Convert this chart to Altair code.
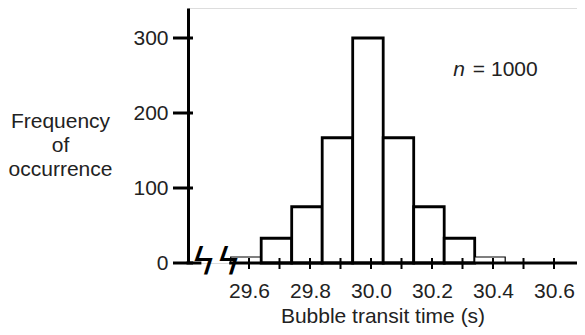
import altair as alt
import pandas as pd

# ---- data ----
bin_start = [29.54, 29.64, 29.74, 29.84, 29.94, 30.04, 30.14, 30.24, 30.34]
bin_end = [29.64, 29.74, 29.84, 29.94, 30.04, 30.14, 30.24, 30.34, 30.44]
counts = [8, 33, 75, 167, 300, 167, 75, 33, 8]

y_tick_values = [0, 100, 200, 300]
x_tick_values = [29.6, 29.7, 29.8, 29.9, 30.0, 30.1, 30.2, 30.3, 30.4, 30.5, 30.6]
x_label_values = [29.6, 29.8, 30.0, 30.2, 30.4, 30.6]

x_domain = [29.4, 30.6754]
y_domain = [0, 340]

baseline_start = [29.4, 29.54]
baseline_end = [29.439, 30.6754]
break_at = 29.492

FONT = "Liberation Sans"
FS = 21
W, H = 389, 255

bars_df = pd.DataFrame({"start": bin_start, "end": bin_end, "count": counts})
yt_df = pd.DataFrame({"v": y_tick_values})
xt_df = pd.DataFrame({"v": x_tick_values})
base_df = pd.DataFrame({"a": baseline_start, "b": baseline_end})

xs = alt.Scale(domain=x_domain, nice=False, zero=False)
ys = alt.Scale(domain=y_domain, nice=False, zero=True)

bars = alt.Chart(bars_df).mark_rect(fill="white", stroke="black", strokeJoin="miter").encode(
    x=alt.X("start:Q", scale=xs,
            axis=alt.Axis(values=x_label_values, format=".1f", domain=False, ticks=False,
                          tickSize=0, grid=False, labelPadding=17, labelFontSize=FS,
                          labelFont=FONT, labelColor="#222",
                          title="Bubble transit time (s)", titleFont=FONT,
                          titleFontSize=FS, titleFontWeight="normal", titleColor="#222",
                          titleBaseline="alphabetic", titleY=59)),
    x2="end:Q",
    y=alt.Y("count:Q", scale=ys,
            axis=alt.Axis(values=y_tick_values, domain=True, domainWidth=3,
                          domainColor="black", ticks=False, tickSize=0, grid=False,
                          labelPadding=20, labelFontSize=FS, labelFont=FONT,
                          labelColor="#222",
                          title=["Frequency", "of", "occurrence"], titleFont=FONT,
                          titleFontSize=FS, titleFontWeight="normal", titleColor="#222",
                          titleAngle=0, titleAlign="center", titleBaseline="alphabetic",
                          titleLineHeight=24, titleX=-128, titleY=119)),
    y2=alt.datum(0),
    strokeWidth=alt.condition("datum.count < 20", alt.value(1.2), alt.value(2.8)),
)

baseline = alt.Chart(base_df).mark_rule(color="black", strokeWidth=3, strokeCap="square").encode(
    x=alt.X("a:Q", scale=xs), x2="b:Q", y=alt.datum(0)
)

yticks = alt.Chart(yt_df).mark_rule(color="black", strokeWidth=3).encode(
    y=alt.Y("v:Q", scale=ys), x=alt.value(-15), x2=alt.value(5)
)

xticks = alt.Chart(xt_df).mark_rule(color="black", strokeWidth=2).encode(
    x=alt.X("v:Q", scale=xs), y=alt.value(H - 5), y2=alt.value(H + 6)
)

brk = alt.Chart(pd.DataFrame({"t": ["ϟϟ"]})).mark_text(
    font="DejaVu Sans", fontSize=38, color="black", baseline="middle", align="center"
).encode(x=alt.datum(break_at), y=alt.datum(0), text="t:N")

n_italic = alt.Chart(pd.DataFrame({"t": ["n"]})).mark_text(
    font=FONT, fontSize=FS, fontStyle="italic", color="#222", align="left", baseline="middle"
).encode(x=alt.datum(30.27), y=alt.datum(257), text="t:N")

n_value = alt.Chart(pd.DataFrame({"t": ["= 1000"]})).mark_text(
    font=FONT, fontSize=FS, color="#222", align="left", baseline="middle"
).encode(x=alt.datum(30.334), y=alt.datum(257), text="t:N")

chart = alt.layer(bars, baseline, yticks, xticks, brk, n_italic, n_value).properties(
    width=W, height=H,
    autosize=alt.AutoSizeParams(type="none"),
    padding={"left": 180, "top": 0, "right": 0, "bottom": 64},
).configure_view(stroke=None).configure(background="white")

chart.save("out.html", embed_options={"renderer": "svg", "actions": False})
